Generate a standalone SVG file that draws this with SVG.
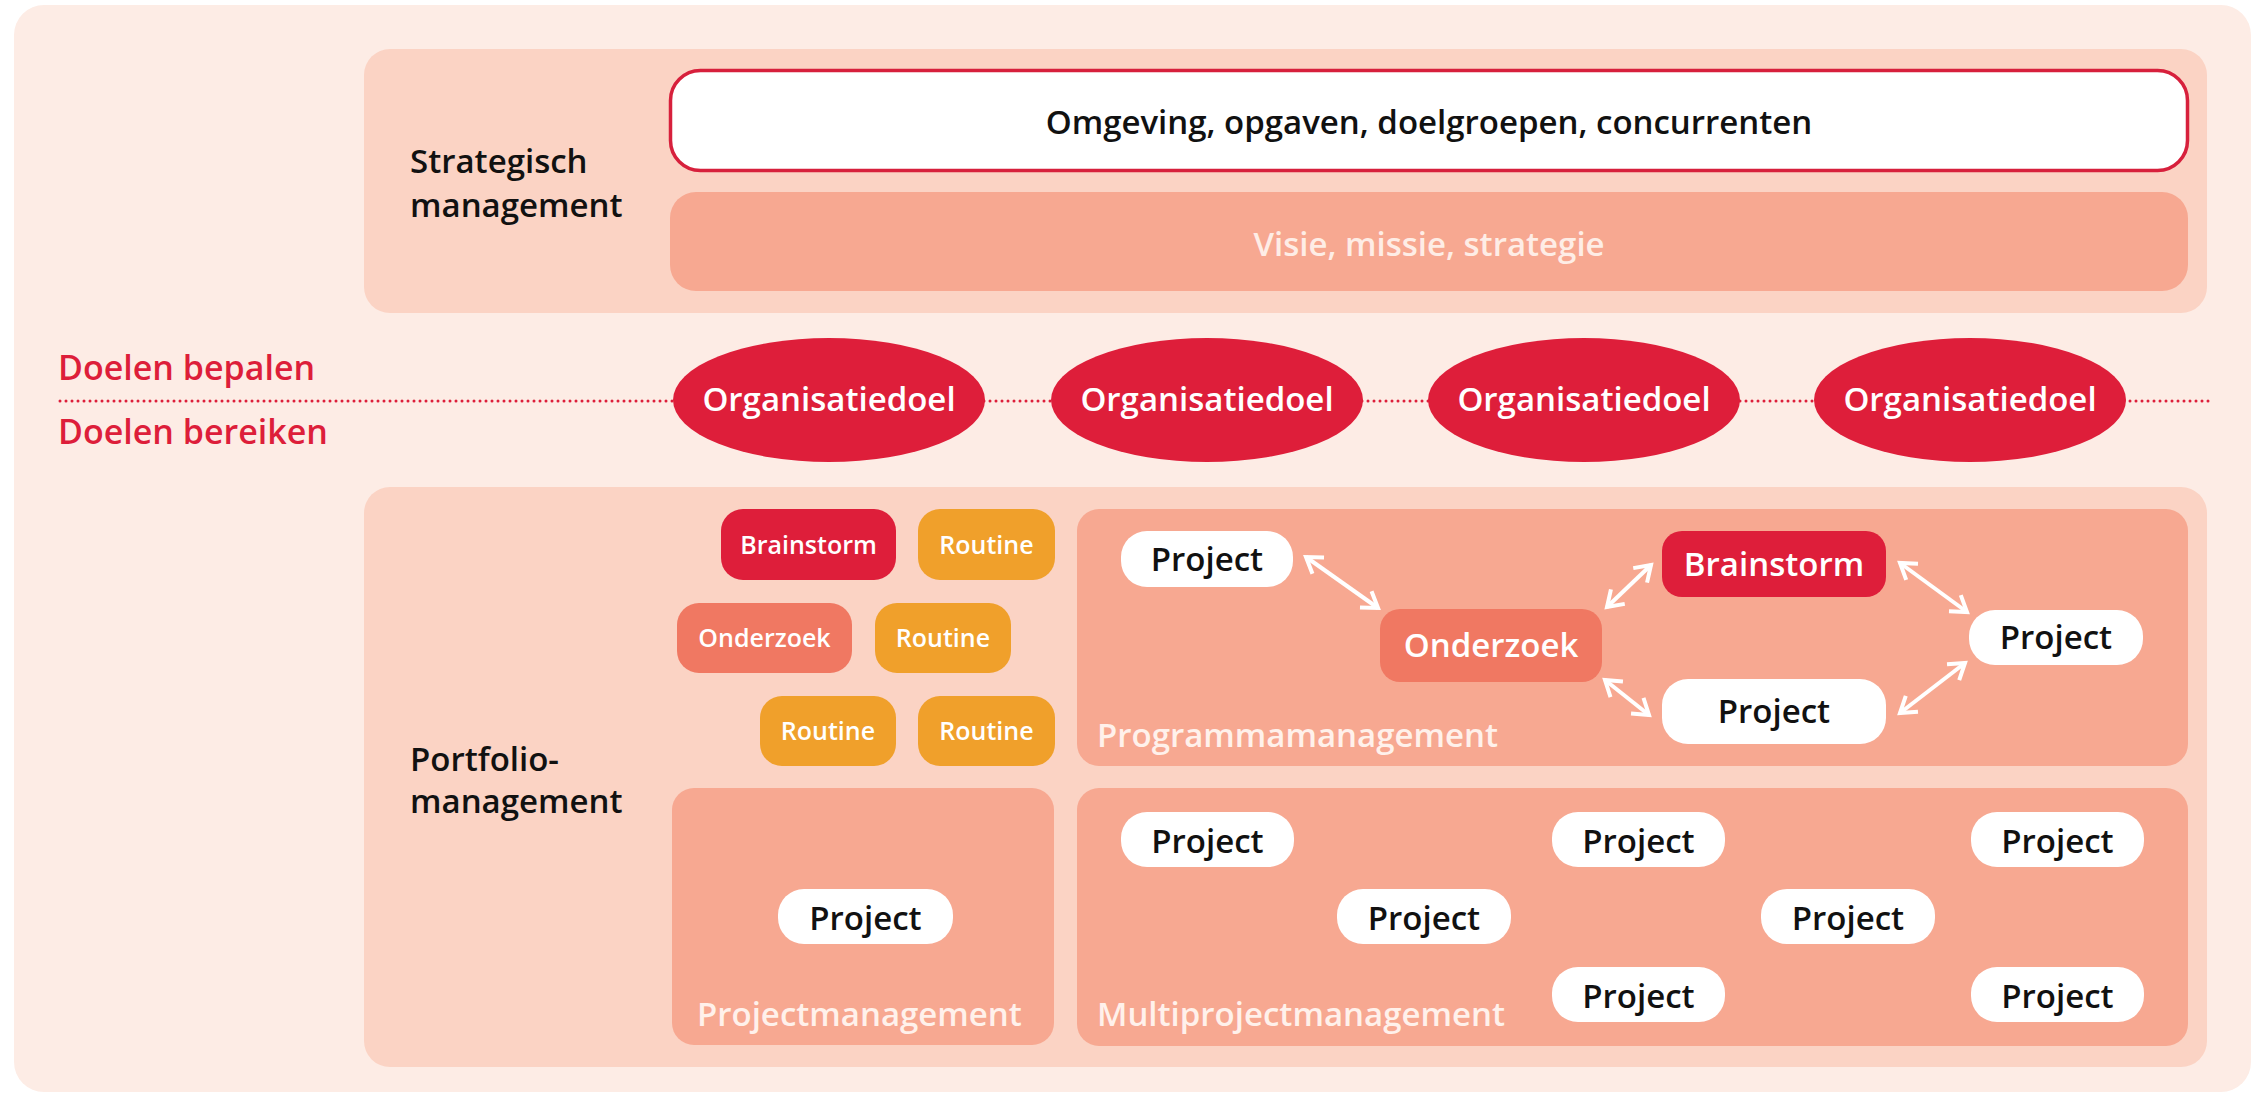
<svg xmlns="http://www.w3.org/2000/svg" width="2260" height="1104" viewBox="0 0 2260 1104">
<style>
text{font-family:"Open Sans","Liberation Sans",sans-serif;}
.blk{fill:#111;font-size:33px;font-weight:600;}
.red{fill:#DD1E3A;font-size:34px;font-weight:600;}
.lbl{fill:#FFF1EB;font-size:33px;font-weight:600;}
.mid{text-anchor:middle;}
.pnl{fill:#FBD3C4;}
.inner{fill:#F7A891;}
.pill{fill:#fff;}
.ptxt{fill:#111;font-size:33px;font-weight:600;text-anchor:middle;}
.wtxt{fill:#fff;font-weight:600;text-anchor:middle;}
.goal{fill:#DE1E3A;}
.rout{fill:#F0A02B;}
.ond{fill:#F07862;}
.arr{stroke:#fff;stroke-width:4;fill:none;}
</style>
<defs>
<marker id="ah" markerUnits="userSpaceOnUse" markerWidth="40" markerHeight="40" viewBox="-20 -20 40 40" refX="0" refY="0" orient="auto-start-reverse">
<path d="M-15,-10 L0,0 L-15,10" fill="none" stroke="#fff" stroke-width="4"/>
</marker>
</defs>
<rect x="0" y="0" width="2260" height="1104" fill="#fff"/>
<rect x="14" y="5" width="2237" height="1087" rx="30" fill="#FDECE5"/>

<g id="strategisch">
<rect class="pnl" x="364" y="49" width="1843" height="264" rx="26"/>
<text class="blk" x="410" y="173">Strategisch</text>
<text class="blk" x="410" y="217">management</text>
</g>
<g id="omgeving">
<rect x="670.5" y="70.5" width="1517" height="100" rx="30" fill="#fff" stroke="#D7203C" stroke-width="3.5"/>
<text class="blk mid" x="1429" y="134" font-size="34">Omgeving, opgaven, doelgroepen, concurrenten</text>
</g>
<g id="visie">
<rect class="inner" x="670" y="192" width="1518" height="99" rx="26"/>
<text class="lbl mid" x="1429" y="256" style="fill:#FEEDE6">Visie, missie, strategie</text>
</g>

<g id="doelen-labels">
<text class="red" x="58" y="380">Doelen bepalen</text>
<text class="red" x="58" y="444">Doelen bereiken</text>
</g>

<g id="portfolio">
<rect class="pnl" x="364" y="487" width="1843" height="580" rx="26"/>
<text class="blk" x="410" y="771">Portfolio-</text>
<text class="blk" x="410" y="813">management</text>
</g>

<g id="programmamanagement">
<rect class="inner" x="1077" y="509" width="1111" height="257" rx="22"/>
<text class="lbl" x="1097" y="747">Programmamanagement</text>
</g>
<g id="projectmanagement">
<rect class="inner" x="672" y="788" width="382" height="257" rx="22"/>
<text class="lbl" x="697" y="1026">Projectmanagement</text>
</g>
<g id="multiprojectmanagement">
<rect class="inner" x="1077" y="788" width="1111" height="258" rx="22"/>
<text class="lbl" x="1097" y="1026">Multiprojectmanagement</text>
</g>

<g id="connectors">
<line x1="60" y1="401" x2="2209" y2="401" stroke="#DD1E3A" stroke-width="3" stroke-linecap="round" stroke-dasharray="0 6"/>
<line class="arr" x1="1306" y1="557" x2="1378" y2="608" marker-start="url(#ah)" marker-end="url(#ah)"/>
<line class="arr" x1="1607" y1="607" x2="1651" y2="565" marker-start="url(#ah)" marker-end="url(#ah)"/>
<line class="arr" x1="1900" y1="563" x2="1967" y2="612" marker-start="url(#ah)" marker-end="url(#ah)"/>
<line class="arr" x1="1605" y1="680" x2="1649" y2="715" marker-start="url(#ah)" marker-end="url(#ah)"/>
<line class="arr" x1="1900" y1="713" x2="1965" y2="663" marker-start="url(#ah)" marker-end="url(#ah)"/>
</g>

<g id="doel1"><ellipse class="goal" cx="829" cy="400" rx="156" ry="62"/><text class="wtxt" x="829" y="411" font-size="33">Organisatiedoel</text></g>
<g id="doel2"><ellipse class="goal" cx="1207" cy="400" rx="156" ry="62"/><text class="wtxt" x="1207" y="411" font-size="33">Organisatiedoel</text></g>
<g id="doel3"><ellipse class="goal" cx="1584" cy="400" rx="156" ry="62"/><text class="wtxt" x="1584" y="411" font-size="33">Organisatiedoel</text></g>
<g id="doel4"><ellipse class="goal" cx="1970" cy="400" rx="156" ry="62"/><text class="wtxt" x="1970" y="411" font-size="33">Organisatiedoel</text></g>

<g id="losse-brainstorm"><rect class="goal" x="721" y="509" width="175" height="71" rx="22"/><text class="wtxt" x="808.5" y="554" font-size="25">Brainstorm</text></g>
<g id="losse-routine1"><rect class="rout" x="918" y="509" width="137" height="71" rx="22"/><text class="wtxt" x="986.5" y="554" font-size="25">Routine</text></g>
<g id="losse-onderzoek"><rect class="ond" x="677" y="603" width="175" height="70" rx="22"/><text class="wtxt" x="764.5" y="647" font-size="25">Onderzoek</text></g>
<g id="losse-routine2"><rect class="rout" x="875" y="603" width="136" height="70" rx="22"/><text class="wtxt" x="943" y="647" font-size="25">Routine</text></g>
<g id="losse-routine3"><rect class="rout" x="760" y="696" width="136" height="70" rx="22"/><text class="wtxt" x="828" y="740" font-size="25">Routine</text></g>
<g id="losse-routine4"><rect class="rout" x="918" y="696" width="137" height="70" rx="22"/><text class="wtxt" x="986.5" y="740" font-size="25">Routine</text></g>

<g id="pg-project1"><rect class="pill" x="1121" y="531" width="172" height="56" rx="26"/><text class="ptxt" x="1207" y="571">Project</text></g>
<g id="pg-brainstorm"><rect class="goal" x="1662" y="531" width="224" height="66" rx="20"/><text class="wtxt" x="1774" y="576" font-size="33">Brainstorm</text></g>
<g id="pg-onderzoek"><rect class="ond" x="1380" y="609" width="222" height="73" rx="20"/><text class="wtxt" x="1491" y="657" font-size="33">Onderzoek</text></g>
<g id="pg-project2"><rect class="pill" x="1969" y="610" width="174" height="55" rx="26"/><text class="ptxt" x="2056" y="649">Project</text></g>
<g id="pg-project3"><rect class="pill" x="1662" y="679" width="224" height="65" rx="26"/><text class="ptxt" x="1774" y="723">Project</text></g>

<g id="pm-project"><rect class="pill" x="778" y="889" width="175" height="55" rx="26"/><text class="ptxt" x="865.5" y="930">Project</text></g>

<g id="mp-project1"><rect class="pill" x="1121" y="812" width="173" height="55" rx="26"/><text class="ptxt" x="1207.5" y="853">Project</text></g>
<g id="mp-project2"><rect class="pill" x="1552" y="812" width="173" height="55" rx="26"/><text class="ptxt" x="1638.5" y="853">Project</text></g>
<g id="mp-project3"><rect class="pill" x="1971" y="812" width="173" height="55" rx="26"/><text class="ptxt" x="2057.5" y="853">Project</text></g>
<g id="mp-project4"><rect class="pill" x="1337" y="889" width="174" height="55" rx="26"/><text class="ptxt" x="1424" y="930">Project</text></g>
<g id="mp-project5"><rect class="pill" x="1761" y="889" width="174" height="55" rx="26"/><text class="ptxt" x="1848" y="930">Project</text></g>
<g id="mp-project6"><rect class="pill" x="1552" y="967" width="173" height="55" rx="26"/><text class="ptxt" x="1638.5" y="1008">Project</text></g>
<g id="mp-project7"><rect class="pill" x="1971" y="967" width="173" height="55" rx="26"/><text class="ptxt" x="2057.5" y="1008">Project</text></g>
</svg>
